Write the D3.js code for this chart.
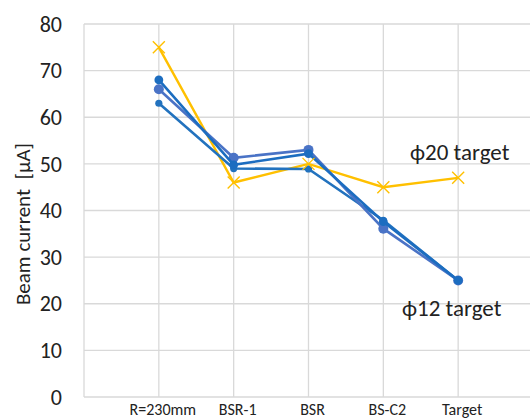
<!DOCTYPE html>
<html lang="en">
<head>
  <meta charset="UTF-8">
  <title>Beam current</title>
  <style>
    body { margin: 0; background: #fff; font-family: Carlito, Calibri, 'Open Sans', 'Noto Sans', sans-serif; }
    svg { display: block; }
    .grid line { stroke: #d9d9d9; stroke-width: 1.3; }
    .tick-y { font-size: 22px; fill: #222; }
    .tick-x { font-size: 16px; fill: #222; }
  </style>
</head>
<body>
  <svg id="chart" width="530" height="419"></svg>
  <script src="https://d3js.org/d3.v7.min.js"></script>
  <script>
    // data
    const categories = ['R=230mm', 'BSR-1', 'BSR', 'BS-C2', 'Target'];
    const yTicks = [0, 10, 20, 30, 40, 50, 60, 70, 80];
    const phi12a = [68, 49.8, 52.2, 37.6, 25];
    const phi12b = [66, 51.3, 53, 36.1, 25];
    const phi12c = [63, 49, 48.9, 37.9, 25];
    const phi20 = [75, 46, 50, 45, 47];

    (function() {
      const svg = d3.select('#chart');
      const pl = 84, pr = 533, pt = 24, pb = 397;

      // first slot is empty, categories sit on the gridlines
      const x = d3.scaleLinear().domain([0, 6]).range([pl, pr]);
      const y = d3.scaleLinear().domain([0, 80]).range([pb, pt]);

      const grid = svg.append('g').attr('class', 'grid');
      grid.selectAll('line.h').data(yTicks).enter().append('line')
        .attr('x1', pl).attr('x2', pr)
        .attr('y1', d => y(d)).attr('y2', d => y(d));
      grid.selectAll('line.v').data(d3.range(0, 7)).enter().append('line')
        .attr('x1', d => x(d)).attr('x2', d => x(d))
        .attr('y1', pt).attr('y2', pb);

      svg.append('g').selectAll('text').data(yTicks).enter().append('text')
        .attr('class', 'tick-y')
        .attr('x', 62).attr('y', d => y(d)).attr('dy', '0.35em')
        .attr('text-anchor', 'end')
        .text(d => d);

      svg.append('g').selectAll('text').data(categories).enter().append('text')
        .attr('class', 'tick-x')
        .attr('x', (d, i) => x(i + 1) + 4).attr('y', 415)
        .attr('text-anchor', 'middle')
        .text(d => d);

      svg.append('text')
        .attr('transform', 'translate(30,224) rotate(-90)')
        .attr('text-anchor', 'middle')
        .attr('xml:space', 'preserve')
        .attr('font-size', 21).attr('fill', '#222')
        .text('Beam current  [μA]');

      const line = d3.line().x((d, i) => x(i + 1)).y(d => y(d));

      const blues = [
        { vals: phi12c, color: '#2272be', r: 3.6 },
        { vals: phi12b, color: '#4a73c6', r: 5 },
        { vals: phi12a, color: '#1c6dc0', r: 4.4 }
      ];

      svg.append('path').datum(phi20)
        .attr('d', line).attr('fill', 'none')
        .attr('stroke', '#ffc000').attr('stroke-width', 2.4);

      blues.forEach(s => {
        svg.append('path').datum(s.vals)
          .attr('d', line).attr('fill', 'none')
          .attr('stroke', s.color).attr('stroke-width', 2.6);
        svg.append('g').selectAll('circle').data(s.vals).enter().append('circle')
          .attr('cx', (d, i) => x(i + 1)).attr('cy', d => y(d))
          .attr('r', s.r).attr('fill', s.color);
      });

      const xs = 6;
      svg.append('g').selectAll('path').data(phi20).enter().append('path')
        .attr('d', (d, i) => {
          const cx = x(i + 1), cy = y(d);
          return `M${cx - xs},${cy - xs}L${cx + xs},${cy + xs}M${cx - xs},${cy + xs}L${cx + xs},${cy - xs}`;
        })
        .attr('stroke', '#ffc000').attr('stroke-width', 1.4);

      svg.append('text')
        .attr('x', 410).attr('y', 160)
        .attr('font-size', 23).attr('fill', '#222')
        .text('ϕ20 target');
      svg.append('text')
        .attr('x', 402).attr('y', 316)
        .attr('font-size', 23).attr('fill', '#222')
        .text('ϕ12 target');
    })();
  </script>
</body>
</html>
